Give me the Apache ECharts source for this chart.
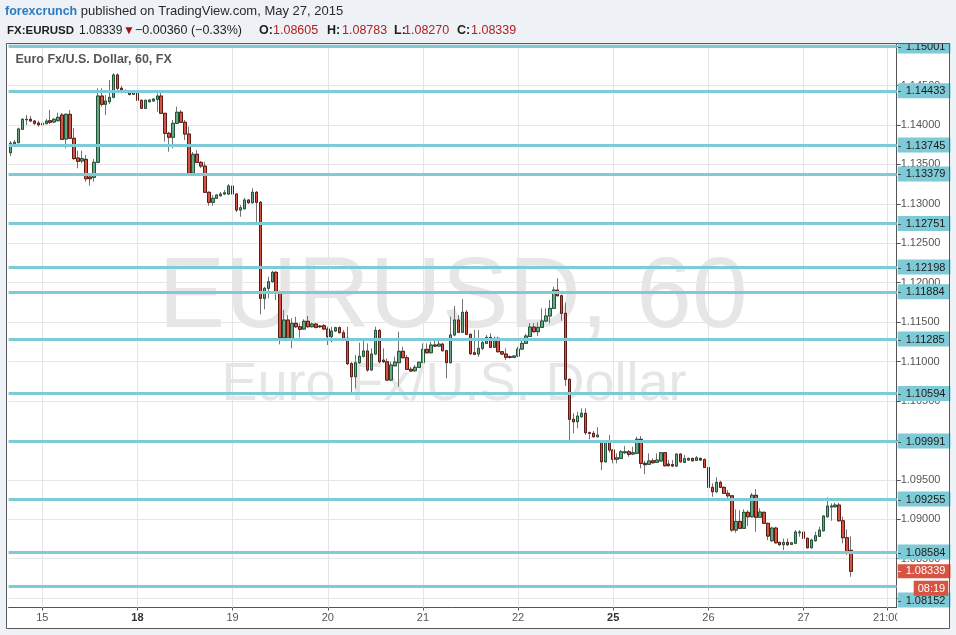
<!DOCTYPE html>
<html>
<head>
<meta charset="utf-8">
<script src="https://cdn.jsdelivr.net/npm/echarts@6.0.0/dist/echarts.min.js"></script>
<style>
html,body{margin:0;padding:0;background:#eef1f5;}
#chart{width:956px;height:635px;}
</style>
</head>
<body>
<div id="chart"></div>
<script>
// ---------- DATA (EUR/USD, 60 min) ----------
const openPrices = [
1.13648,1.13758,1.13775,1.13945,1.14066,1.14072,1.14050,1.14025,1.14003,1.14016,
1.14054,1.14038,1.14054,1.14126,1.13822,1.14135,1.13831,1.13581,1.13543,1.13564,
1.13340,1.13336,1.13526,1.14367,1.14262,1.14295,1.14351,1.14634,1.14465,1.14437,
1.14422,1.14389,1.14418,1.14313,1.14211,1.14295,1.14304,1.14325,1.14367,1.14148,
1.13894,1.13844,1.14021,1.14161,1.14034,1.13885,1.13387,1.13628,1.13526,1.13479,
1.13146,1.13019,1.13070,1.13102,1.13124,1.13124,1.13226,1.13124,1.12921,1.12938,
1.13048,1.13014,1.13146,1.13019,1.11801,1.11928,1.12012,1.12131,1.11885,1.11302,
1.11526,1.11269,1.11484,1.11441,1.11412,1.11510,1.11441,1.11475,1.11450,1.11454,
1.11412,1.11315,1.11387,1.11429,1.11365,1.11294,1.10972,1.10807,1.10985,1.11066,
1.11133,1.10892,1.11095,1.11395,1.11018,1.10997,1.10765,1.10946,1.10985,1.11129,
1.11048,1.10901,1.10883,1.10926,1.10990,1.11154,1.11111,1.11209,1.11196,1.11221,
1.11137,1.10985,1.11336,1.11526,1.11370,1.11624,1.11345,1.11111,1.11095,1.11167,
1.11230,1.11306,1.11180,1.11294,1.11124,1.11095,1.11061,1.11053,1.11069,1.11158,
1.11230,1.11317,1.11437,1.11378,1.11433,1.11513,1.11577,1.11674,1.11906,1.11834,
1.11611,1.10774,1.10267,1.10236,1.10299,1.10343,1.10097,1.10089,1.10046,1.09991,
1.09728,1.09991,1.09877,1.09759,1.09771,1.09843,1.09855,1.09826,1.09835,1.10013,
1.09708,1.09696,1.09741,1.09721,1.09738,1.09843,1.09699,1.09693,1.09674,1.09826,
1.09721,1.09750,1.09771,1.09746,1.09771,1.09756,1.09657,1.09404,1.09348,1.09467,
1.09404,1.09328,1.09297,1.08862,1.08972,1.08884,1.09087,1.09031,1.09303,1.09024,
1.09087,1.08947,1.08727,1.08887,1.08706,1.08676,1.08706,1.08681,1.08694,1.08828,
1.08837,1.08757,1.08638,1.08727,1.08783,1.08853,1.09031,1.09154,1.09158,1.09179,
1.08980,1.08765,1.08605
];
const closePrices = [
1.13768,1.13780,1.13949,1.14072,1.14072,1.14050,1.14021,1.14003,1.14021,1.14050,
1.14034,1.14072,1.14097,1.13818,1.14135,1.13831,1.13574,1.13539,1.13574,1.13318,
1.13318,1.13526,1.14367,1.14262,1.14304,1.14351,1.14634,1.14465,1.14443,1.14418,
1.14389,1.14418,1.14313,1.14211,1.14313,1.14317,1.14329,1.14367,1.14148,1.13894,
1.13844,1.14021,1.14161,1.14034,1.13885,1.13387,1.13628,1.13526,1.13479,1.13146,
1.13019,1.13070,1.13111,1.13124,1.13140,1.13226,1.13124,1.12921,1.12950,1.13048,
1.13014,1.13146,1.13019,1.11801,1.11928,1.12012,1.12131,1.11885,1.11302,1.11526,
1.11269,1.11484,1.11441,1.11408,1.11510,1.11441,1.11475,1.11433,1.11441,1.11412,
1.11315,1.11387,1.11429,1.11365,1.11294,1.10972,1.10807,1.10985,1.11066,1.11133,
1.10892,1.11095,1.11395,1.10997,1.10997,1.10765,1.10955,1.10993,1.11129,1.11048,
1.10901,1.10879,1.10926,1.10990,1.11154,1.11111,1.11209,1.11196,1.11221,1.11137,
1.10985,1.11336,1.11526,1.11370,1.11624,1.11345,1.11099,1.11091,1.11167,1.11238,
1.11306,1.11180,1.11294,1.11124,1.11095,1.11053,1.11053,1.11069,1.11158,1.11230,
1.11323,1.11437,1.11378,1.11433,1.11513,1.11577,1.11674,1.11906,1.11834,1.11611,
1.10774,1.10267,1.10236,1.10308,1.10343,1.10097,1.10089,1.10046,1.10067,1.09728,
1.09991,1.09877,1.09759,1.09779,1.09855,1.09855,1.09822,1.09843,1.10013,1.09708,
1.09691,1.09738,1.09716,1.09750,1.09843,1.09678,1.09678,1.09674,1.09826,1.09728,
1.09767,1.09771,1.09741,1.09779,1.09750,1.09657,1.09404,1.09348,1.09467,1.09404,
1.09328,1.09297,1.08862,1.08972,1.08884,1.09087,1.09031,1.09303,1.09024,1.09091,
1.08947,1.08786,1.08887,1.08701,1.08676,1.08706,1.08676,1.08701,1.08837,1.08837,
1.08757,1.08638,1.08735,1.08790,1.08862,1.09040,1.09167,1.09167,1.09179,1.08980,
1.08765,1.08587,1.08339
];
const lowPrices = [
1.13606,1.13724,1.13771,1.13942,1.13999,1.14038,1.13999,1.13978,1.13993,1.14012,
1.14012,1.14025,1.14044,1.13809,1.13704,1.13822,1.13555,1.13450,1.13514,1.13280,
1.13230,1.13280,1.13514,1.14232,1.14126,1.14266,1.14338,1.14422,1.14402,1.14402,
1.14374,1.14380,1.14211,1.14202,1.14202,1.14285,1.14298,1.14168,1.14139,1.13788,
1.13661,1.13704,1.14012,1.14025,1.13809,1.13365,1.13378,1.13517,1.13454,1.13137,
1.12976,1.12976,1.13061,1.13092,1.13111,1.13111,1.13099,1.12896,1.12836,1.12928,
1.12998,1.13004,1.12760,1.11598,1.11662,1.11801,1.12002,1.11780,1.11218,1.11285,
1.11260,1.11167,1.11425,1.11302,1.11399,1.11431,1.11431,1.11418,1.11425,1.11399,
1.11209,1.11243,1.11374,1.11355,1.11285,1.10955,1.10604,1.10660,1.10968,1.11050,
1.10870,1.10879,1.11082,1.10977,1.10981,1.10752,1.10752,1.10936,1.10680,1.11038,
1.10892,1.10870,1.10870,1.10917,1.10981,1.11101,1.11101,1.11183,1.11183,1.11126,
1.10787,1.10975,1.11323,1.11361,1.11361,1.11336,1.11082,1.11082,1.11061,1.11145,
1.11221,1.11171,1.11171,1.11114,1.11082,1.11018,1.11038,1.11044,1.11057,1.11145,
1.11221,1.11311,1.11368,1.11323,1.11425,1.11501,1.11484,1.11666,1.11824,1.11517,
1.10689,1.10004,1.10089,1.10153,1.10289,1.10067,1.10013,1.10036,1.10036,1.09623,
1.09718,1.09843,1.09708,1.09708,1.09762,1.09826,1.09792,1.09813,1.09826,1.09645,
1.09573,1.09687,1.09706,1.09712,1.09731,1.09668,1.09668,1.09661,1.09661,1.09718,
1.09712,1.09738,1.09731,1.09738,1.09738,1.09649,1.09348,1.09284,1.09338,1.09395,
1.09319,1.09264,1.08840,1.08828,1.08875,1.08875,1.08913,1.09021,1.08840,1.09015,
1.08938,1.08735,1.08716,1.08691,1.08666,1.08608,1.08666,1.08672,1.08685,1.08777,
1.08749,1.08627,1.08627,1.08716,1.08774,1.08843,1.09021,1.08980,1.09148,1.08970,
1.08694,1.08545,1.08270
];
const highPrices = [
1.13797,1.13809,1.13966,1.14085,1.14126,1.14114,1.14063,1.14054,1.14041,1.14076,
1.14190,1.14089,1.14155,1.14152,1.14148,1.14190,1.13961,1.13673,1.13673,1.13619,
1.13387,1.13568,1.14465,1.14465,1.14380,1.14570,1.14655,1.14655,1.14494,1.14452,
1.14437,1.14431,1.14443,1.14323,1.14323,1.14323,1.14336,1.14402,1.14422,1.14152,
1.13915,1.14063,1.14232,1.14190,1.14063,1.13978,1.13657,1.13682,1.13543,1.13534,
1.13156,1.13111,1.13124,1.13150,1.13175,1.13251,1.13251,1.13137,1.12985,1.13073,
1.13061,1.13197,1.13162,1.13036,1.11948,1.12075,1.12151,1.12148,1.11900,1.11653,
1.11589,1.11548,1.11568,1.11484,1.11535,1.11577,1.11494,1.11488,1.11462,1.11475,
1.11441,1.11441,1.11441,1.11444,1.11399,1.11441,1.10993,1.11082,1.11238,1.11260,
1.11230,1.11167,1.11441,1.11412,1.11167,1.11040,1.10997,1.11061,1.11378,1.11187,
1.11082,1.10933,1.10955,1.10997,1.11230,1.11230,1.11251,1.11294,1.11272,1.11238,
1.11145,1.11568,1.11704,1.11589,1.11793,1.11653,1.11355,1.11399,1.11399,1.11294,
1.11336,1.11357,1.11315,1.11315,1.11133,1.11167,1.11076,1.11079,1.11187,1.11264,
1.11349,1.11488,1.11488,1.11497,1.11674,1.11674,1.11780,1.11948,1.12055,1.11850,
1.11746,1.10784,1.10343,1.10363,1.10406,1.10406,1.10112,1.10118,1.10165,1.10004,
1.10004,1.10067,1.09890,1.09835,1.09877,1.09928,1.09877,1.09919,1.10046,1.10055,
1.09741,1.09835,1.09771,1.09835,1.09852,1.09852,1.09750,1.09750,1.09832,1.09835,
1.09813,1.09781,1.09781,1.09800,1.09781,1.09771,1.09668,1.09455,1.09531,1.09488,
1.09414,1.09369,1.09306,1.09125,1.09116,1.09125,1.09116,1.09332,1.09382,1.09138,
1.09097,1.08957,1.08904,1.08904,1.08716,1.08755,1.08755,1.08710,1.08862,1.08862,
1.08862,1.08768,1.08755,1.08841,1.08904,1.09052,1.09277,1.09201,1.09209,1.09209,
1.09031,1.08872,1.08783
];
// horizontal support / resistance levels drawn on the chart
const levelValues = [1.15001,1.14433,1.13745,1.13379,1.12751,1.12198,1.11884,1.11285,1.10594,1.09991,1.09255,1.08584,1.08152];
const lastPrice = 1.08339;
const countdownText = '08:19';
// time axis
const firstBarUTC = Date.UTC(2015, 4, 14, 16);
const categoryCount = 224;
const tickTimes = ['05-15 00:00','05-18 00:00','05-19 00:00','05-20 00:00','05-21 00:00','05-22 00:00','05-25 00:00','05-26 00:00','05-27 00:00','05-27 21:00'];
const tickLabels = ['15','18','19','20','21','22','25','26','27','21:00'];
const weekStartLabels = ['18','25'];
// header texts
const headerAuthor = 'forexcrunch';
const headerPublished = 'published on TradingView.com, May 27, 2015';
const chartTitle = 'Euro Fx/U.S. Dollar, 60, FX';
const watermarkBig = 'EURUSD, 60';
const watermarkSmall = 'Euro Fx/U.S. Dollar';

// ---------- build categories (hourly FX session, weekend skipped) ----------
function pad(n){return (n<10?'0':'')+n;}
const categories = [];
for (let t = firstBarUTC; categories.length < categoryCount; t += 3600000) {
  const d = new Date(t);
  const wd = d.getUTCDay(), h = d.getUTCHours();
  const closed = (wd === 5 && h >= 21) || wd === 6 || (wd === 0 && h < 21);
  if (!closed) categories.push(pad(d.getUTCMonth()+1)+'-'+pad(d.getUTCDate())+' '+pad(h)+':00');
}

const wickData = openPrices.map((o,i)=>[o, closePrices[i], lowPrices[i], highPrices[i]]);
const bodyData = openPrices.map((o,i)=>[o, closePrices[i], Math.min(o, closePrices[i]), Math.max(o, closePrices[i])]);

const FONT = '"Liberation Sans", Arial, sans-serif';
const TEAL = '#7ecad6';
const RED = '#d75442';
const BG = '#eef1f5';

const verticalLines = tickTimes.map(t => ({
  xAxis: t, lineStyle: {color:'#e4e4e4', width:1, type:'solid'}, label:{show:false}
}));
const levelLines = levelValues.map((v,k) => ({
  yAxis: v,
  lineStyle: {color: TEAL, width: 3, type: 'solid', opacity: 1},
  label: {
    show: true, position: 'end', distance: 1,
    offset: k === levelValues.length - 1 ? [0, 14] : [0, 0],
    formatter: '{k|-}{v|' + v.toFixed(5) + '}',
    backgroundColor: TEAL, padding: [2, 5, 1, 0], lineHeight: 12,
    rich: {
      k: {color:'#333', width: 8, fontSize: 11, fontFamily: FONT, lineHeight: 12},
      v: {color:'#1b1b1b', fontSize: 11, fontFamily: FONT, lineHeight: 12}
    }
  }
}));
const priceLines = [
  { yAxis: lastPrice, lineStyle: {color: 'rgba(0,0,0,0)', width: 1, type: 'solid', opacity: 1},
    label: { show: true, position: 'end', distance: 1,
      formatter: '{k|-}{v|' + lastPrice.toFixed(5) + '}',
      backgroundColor: RED, padding: [1, 5, 1, 0], lineHeight: 12,
      rich: {
        k: {color:'#fff', width: 8, fontSize: 11, fontFamily: FONT, lineHeight: 12},
        v: {color:'#fff', fontSize: 11, fontFamily: FONT, lineHeight: 12}
      } } },
  { yAxis: lastPrice + 0.0000001, lineStyle: {color: 'rgba(0,0,0,0)', width: 1, type: 'solid', opacity: 1},
    label: { show: true, position: 'end', distance: 1, offset: [16, 17],
      formatter: '{t|' + countdownText + '}', backgroundColor: RED, padding: [2, 3, 1, 4], lineHeight: 12,
      rich: {t: {color: '#fff', fontSize: 11, fontFamily: FONT, lineHeight: 12}} } }
];

const header2 = [
  {x: 7,   text: 'FX:EURUSD', bold: true,  fill: '#1e1e1e', size: 11.5},
  {x: 79,  text: '1.08339',   bold: false, fill: '#1e1e1e', size: 12},
  {x: 123, text: '\u25BC',    bold: false, fill: '#9b1414', size: 12},
  {x: 135, text: '\u22120.00360 (\u22120.33%)', bold: false, fill: '#1e1e1e'},
  {x: 259, text: 'O:', bold: true,  fill: '#1e1e1e'},
  {x: 273, text: '1.08605', bold: false, fill: '#b22020'},
  {x: 327, text: 'H:', bold: true,  fill: '#1e1e1e'},
  {x: 342, text: '1.08783', bold: false, fill: '#b22020'},
  {x: 394, text: 'L:', bold: true,  fill: '#1e1e1e'},
  {x: 404, text: '1.08270', bold: false, fill: '#b22020'},
  {x: 457, text: 'C:', bold: true,  fill: '#1e1e1e'},
  {x: 471, text: '1.08339', bold: false, fill: '#b22020'}
].map(s => ({
  type: 'text', z: 50, silent: true, x: s.x, y: 30.5,
  style: {text: s.text, fill: s.fill, fontSize: s.size || 12.5, fontFamily: FONT,
          fontWeight: s.bold ? 'bold' : 'normal', verticalAlign: 'middle', align: 'left'}
}));

const chart = echarts.init(document.getElementById('chart'), null, {renderer: 'canvas'});
const option = {
  animation: false,
  backgroundColor: BG,
  grid: {left: 8.6, right: 59.3, top: 44, bottom: 27.5, containLabel: false, outerBoundsMode: 'none'},
  xAxis: {
    type: 'category', data: categories, boundaryGap: true,
    axisLine: {show: true, lineStyle: {color: '#555', width: 1}},
    axisTick: {show: true, alignWithLabel: true, length: 3, interval: (i, v) => tickTimes.includes(v), lineStyle: {color: '#555'}},
    axisLabel: {
      interval: (i, v) => tickTimes.includes(v),
      formatter: v => { const l = tickLabels[tickTimes.indexOf(v)]; return weekStartLabels.includes(l) ? '{w|' + l + '}' : l; },
      color: '#555', fontSize: 11, fontFamily: FONT, margin: 5,
      rich: {w: {fontWeight: 'bold', color: '#333', fontSize: 11, fontFamily: FONT}}
    },
    splitLine: {show: false}
  },
  yAxis: {
    type: 'value', position: 'right', min: 1.0788, max: 1.15027, splitNumber: 14,
    minInterval: 0.005, maxInterval: 0.005,
    axisLine: {show: true, lineStyle: {color: '#555', width: 1}},
    axisTick: {show: true, length: 4, lineStyle: {color: '#555'}},
    axisLabel: {color: '#555', fontSize: 11, fontFamily: FONT, margin: 4,
      formatter: v => v.toFixed(5), showMinLabel: false, showMaxLabel: false},
    splitLine: {show: true, lineStyle: {color: '#e6e6e6', width: 1}}
  },
  graphic: [
    {type: 'rect', z: -10, silent: true, shape: {x: 6.5, y: 43.5, width: 943, height: 585}, style: {fill: '#ffffff'}},
    {type: 'text', z: -5, silent: true, x: 453, y: 299,
      style: {text: watermarkBig, fill: '#e6e6e6', fontSize: 100, fontFamily: FONT, align: 'center', verticalAlign: 'middle'}},
    {type: 'text', z: -5, silent: true, x: 454, y: 385,
      style: {text: watermarkSmall, fill: '#e6e6e6', fontSize: 54, fontFamily: FONT, align: 'center', verticalAlign: 'middle'}},
    {type: 'rect', z: 90, silent: true, shape: {x: 897, y: 0, width: 59, height: 43}, style: {fill: BG}},
    {type: 'rect', z: 90, silent: true, shape: {x: 897.3, y: 608, width: 52, height: 20}, style: {fill: '#ffffff'}},
    {type: 'rect', z: 100, silent: true, shape: {x: 6.5, y: 43.5, width: 943, height: 585}, style: {fill: 'none', stroke: '#5a5a5a', lineWidth: 1}},
    {type: 'text', z: 50, silent: true, x: 5, y: 11.5,
      style: {text: '{a|' + headerAuthor + '}{b| ' + headerPublished + '}', verticalAlign: 'middle', align: 'left',
        rich: {a: {fill: '#2c7bbf', fontSize: 12.5, fontFamily: FONT, fontWeight: 'bold'},
               b: {fill: '#2a2a2a', fontSize: 13, fontFamily: FONT}}}},
    ...header2,
    {type: 'text', z: 50, silent: true, x: 15.5, y: 60,
      style: {text: chartTitle, fill: '#555', fontSize: 12.5, fontFamily: FONT, fontWeight: 'bold', verticalAlign: 'middle', align: 'left'}}
  ],
  series: [
    {type: 'line', name: 'levels', data: [], z: 1, silent: true, showSymbol: false,
      markLine: {symbol: ['none', 'none'], silent: true, animation: false, precision: 7,
        data: [...verticalLines, ...levelLines, ...priceLines]}},
    {type: 'candlestick', name: 'wicks', data: wickData, barWidth: 3, z: 2, silent: true,
      itemStyle: {color: 'rgba(0,0,0,0)', color0: 'rgba(0,0,0,0)', borderColor: '#737375', borderColor0: '#737375', borderColorDoji: '#737375', borderWidth: 1}},
    {type: 'candlestick', name: 'EURUSD', data: bodyData, barWidth: 3, z: 3, silent: true,
      itemStyle: {color: '#6ba583', color0: '#d75442', borderColor: '#225437', borderColor0: '#5b1a13', borderColorDoji: '#444', borderWidth: 1}}
  ]
};
chart.setOption(option);
</script>
</body>
</html>
